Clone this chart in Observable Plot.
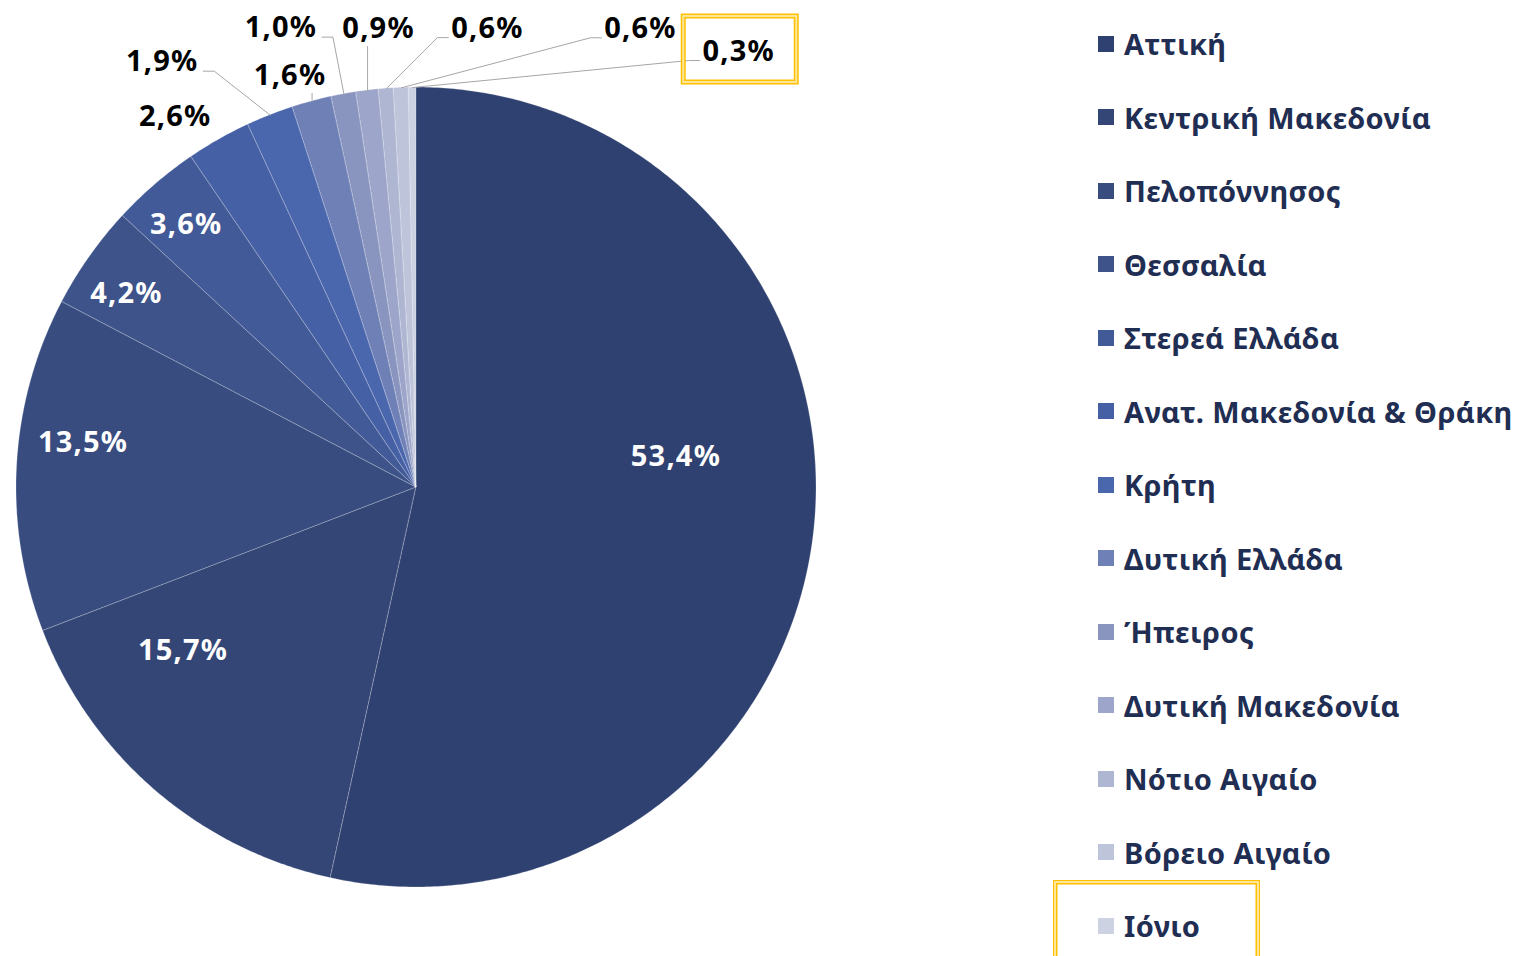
<!DOCTYPE html>
<html><head><meta charset="utf-8">
<script src="https://cdn.jsdelivr.net/npm/d3@7"></script>
<script src="https://cdn.jsdelivr.net/npm/@observablehq/plot@0.6"></script>
<style>
html,body{margin:0;padding:0;background:#fff;}
#wrap{position:relative;width:1537px;height:956px;overflow:hidden;font-family:"Noto Sans",sans-serif;}
#chart{position:absolute;left:0;top:0;}
#chart text{letter-spacing:1.2px;}
#legend{position:absolute;left:1098px;top:7px;}
.row{height:73.5px;display:flex;align-items:center;font-weight:700;font-size:29px;letter-spacing:0.4px;color:#1f2e52;white-space:nowrap;}
.sw{width:16px;height:16px;margin-right:10px;flex:none;}
#hl{position:absolute;left:1053px;top:880px;width:205px;height:90px;border:1.5px solid #ffc000;box-shadow:inset 0 0 0 2px #ffe699, inset 0 0 0 3.5px #ffc000;}
</style></head><body>
<div id="wrap"><div id="chart"></div><div id="legend"></div><div id="hl"></div></div>
<script>
// ---- data ----
const regions = ["Αττική","Κεντρική Μακεδονία","Πελοπόννησος","Θεσσαλία","Στερεά Ελλάδα","Ανατ. Μακεδονία & Θράκη","Κρήτη","Δυτική Ελλάδα","Ήπειρος","Δυτική Μακεδονία","Νότιο Αιγαίο","Βόρειο Αιγαίο","Ιόνιο"];
const shares = [53.4, 15.7, 13.5, 4.2, 3.6, 2.6, 1.9, 1.6, 1.0, 0.9, 0.6, 0.6, 0.3];
const labels = ["53,4%","15,7%","13,5%","4,2%","3,6%","2,6%","1,9%","1,6%","1,0%","0,9%","0,6%","0,6%","0,3%"];
const colors = ["#2f4170","#334676","#384c80","#3d5389","#425a97","#4660a5","#4a66ad","#6e80b5","#8995bf","#9da6ca","#aeb6d2","#bec4da","#cdd2e3"];
// manual label nudges (px): outside labels relative to the slice edge midpoint,
// inside labels relative to their default radial position
const outerNudge = {5:[-44,-23],6:[-108,-53],7:[-22,-26],8:[-63,-66],9:[11,-62],10:[101,-60],11:[239,-59],12:[326,-36]};
const innerNudge = {0:[-11,-60],1:[-56,-43],2:[10,-25],3:[-9,5],4:[-6,-2]};

// ---- layout ----
const W = 1040, H = 956, cx = 416, cy = 487, R = 400;
const total = d3.sum(shares);
const px = a => cx + R * Math.sin(a);
const py = a => cy - R * Math.cos(a);

let cum = 0;
const slices = shares.map((v, i) => {
  const a0 = cum / total * 2 * Math.PI; cum += v;
  const a1 = cum / total * 2 * Math.PI;
  return {i, region: regions[i], v, a0, a1, mid: (a0 + a1) / 2};
});

const wedge = [];
for (const s of slices) {
  const n = Math.max(2, Math.ceil((s.a1 - s.a0) / (Math.PI / 360)));
  for (let k = 0; k <= n; k++) {
    const a = s.a0 + (s.a1 - s.a0) * k / n;
    wedge.push({region: s.region, x1: cx, y1: cy, x2: px(a), y2: py(a)});
  }
}

const inside = [], outside = [], leaders = [];
for (const s of slices) {
  if (outerNudge[s.i]) {
    const ex = px(s.mid), ey = py(s.mid);
    const [dx, dy] = outerNudge[s.i];
    const lx = ex + dx, ly = ey + dy;
    outside.push({x: lx, y: ly, t: labels[s.i], i: s.i});
    if (s.v < 2.5) {
      let pts;
      if (Math.abs(dx) < 30) pts = [[ex, ly + 18], [ex, ey]];
      else if (dx < 0) pts = [[lx + 41, ly + 9], [lx + 52, ly + 9], [ex, ey]];
      else pts = [[lx - 39, ly + 9], [lx - 50, ly + 9], [ex, ey]];
      pts.forEach(p => leaders.push({id: s.i, x: p[0], y: p[1]}));
    }
  } else {
    const rr = s.v > 14 ? 0.68 : 0.86;
    const [dx, dy] = innerNudge[s.i] || [0, 0];
    inside.push({x: cx + rr * R * Math.sin(s.mid) + dx, y: cy - rr * R * Math.cos(s.mid) + dy, t: labels[s.i]});
  }
}
const hlLabel = outside.filter(d => d.i === 12).map(d => ({x1: d.x - 55, x2: d.x + 58, y1: d.y - 35, y2: d.y + 31}));

const font = "'Noto Sans', sans-serif";
const chart = Plot.plot({
  width: W, height: H, margin: 0,
  style: {fontFamily: font, background: "transparent"},
  x: {domain: [0, W], range: [0, W], axis: null},
  y: {domain: [0, H], range: [0, H], axis: null},
  color: {type: "ordinal", domain: regions, range: colors},
  marks: [
    Plot.area(wedge, {x1: "x1", y1: "y1", x2: "x2", y2: "y2", z: "region", fill: "region", stroke: "white", strokeWidth: 0.5, strokeOpacity: 0.45}),
    Plot.line(leaders, {x: "x", y: "y", z: "id", stroke: "#a6a6a6", strokeWidth: 1}),
    Plot.text(inside, {x: "x", y: "y", text: "t", fill: "white", fontSize: 29, fontWeight: 700}),
    Plot.text(outside, {x: "x", y: "y", text: "t", fill: "black", fontSize: 29, fontWeight: 700}),
    Plot.rect(hlLabel, {x1: "x1", x2: "x2", y1: "y1", y2: "y2", fill: "none", stroke: "#ffc000", strokeWidth: 5}),
    Plot.rect(hlLabel, {x1: "x1", x2: "x2", y1: "y1", y2: "y2", fill: "none", stroke: "#ffe699", strokeWidth: 2})
  ]
});
document.getElementById("chart").appendChild(chart);

const leg = d3.select("#legend");
regions.forEach((r, i) => {
  const row = leg.append("div").attr("class", "row");
  row.append("div").attr("class", "sw").style("background", colors[i]);
  row.append("span").text(r);
});
</script>
</body></html>
